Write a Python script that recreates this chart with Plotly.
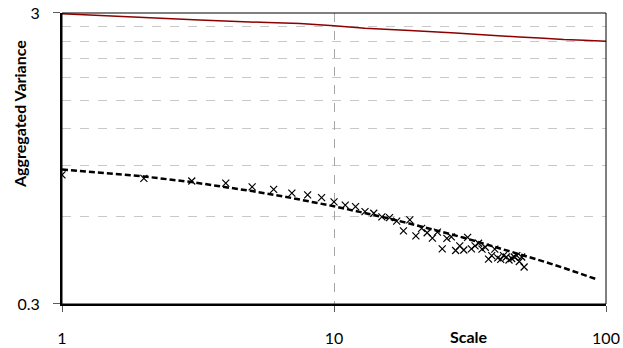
import plotly.graph_objects as go

# Red reference curve
red_x = [1, 1.8, 3.2, 5.7, 7.5, 10, 13, 19, 23, 28, 34, 41, 48, 57, 70, 83, 100]
red_y = [2.98, 2.90, 2.84, 2.78, 2.76, 2.71, 2.66, 2.61, 2.59, 2.56, 2.53, 2.51, 2.48, 2.46, 2.43, 2.42, 2.40]

# Fitted dashed curve
fit_x = [1, 2, 3, 5, 7, 10, 15, 20, 30, 40, 50, 60, 70, 80, 93]
fit_y = [0.870, 0.823, 0.787, 0.733, 0.694, 0.650, 0.598, 0.560, 0.507, 0.469, 0.441, 0.418, 0.399, 0.382, 0.364]

# Measured aggregated variance
scale = list(range(1, 51))
variance = [0.833, 0.811, 0.794, 0.781, 0.758, 0.743, 0.721, 0.711, 0.696, 0.673,
            0.656, 0.648, 0.623, 0.615, 0.598, 0.594, 0.578, 0.535, 0.584, 0.514,
            0.546, 0.527, 0.505, 0.530, 0.464, 0.504, 0.510, 0.458, 0.475, 0.460,
            0.508, 0.464, 0.475, 0.485, 0.463, 0.470, 0.428, 0.440, 0.463, 0.432,
            0.427, 0.440, 0.435, 0.425, 0.430, 0.435, 0.440, 0.420, 0.435, 0.402]

y_ticks = [0.3, 3]
y_tick_text = ["0.3", "3"]
y_minor = [0.6, 0.9, 1.2, 1.5, 1.8, 2.1, 2.4, 2.7]
x_ticks = [1, 10, 100]
x_tick_text = ["1", "10", "100"]

font = "Lato"

fig = go.Figure()
fig.add_trace(go.Scatter(x=red_x, y=red_y, mode="lines",
                         line=dict(color="#8B0000", width=1.5), showlegend=False))
fig.add_trace(go.Scatter(x=fit_x, y=fit_y, mode="lines",
                         line=dict(color="black", width=2.5, dash="6px,3px"), showlegend=False))
fig.add_trace(go.Scatter(x=scale, y=variance, mode="markers",
                         marker=dict(symbol="x-thin", size=7, line=dict(color="black", width=1.2)),
                         showlegend=False))

fig.update_layout(
    width=623, height=348,
    margin=dict(l=62, r=17, t=13, b=44, autoexpand=False),
    plot_bgcolor="white", paper_bgcolor="white",
    font=dict(family=font, size=16, color="black"),
    xaxis=dict(type="log", range=[0, 2], tickmode="array", tickvals=x_ticks, ticktext=x_tick_text,
               showgrid=True, gridcolor="#A6A6A6", griddash="dash", gridwidth=1,
               showline=True, linecolor="black", linewidth=2, automargin=False,
               ticks="outside", ticklen=6, tickcolor="#595959", ticklabelstandoff=13,
               zeroline=False),
    yaxis=dict(type="log", range=[-0.5229, 0.4771], tickmode="array", tickvals=y_ticks, ticktext=y_tick_text,
               showgrid=False, automargin=False,
               minor=dict(tickmode="array", tickvals=y_minor, showgrid=True, gridcolor="#C8C8C8",
                          griddash="dash", gridwidth=1, ticks=""),
               showline=True, linecolor="black", linewidth=2,
               ticks="outside", ticklen=7, tickcolor="#595959", ticklabelstandoff=10,
               zeroline=False),
    shapes=[dict(type="rect", xref="paper", yref="paper", x0=0, x1=1, y0=0, y1=1,
                 line=dict(color="black", width=1), layer="above")],
    annotations=[
        dict(text="<b>Aggregated Variance</b>", xref="paper", yref="paper",
             x=(19 - 62) / 544, y=(304 - 114) / 291, textangle=-90, showarrow=False,
             xanchor="center", yanchor="middle", font=dict(size=16, family=font)),
        dict(text="<b>Scale</b>", xref="paper", yref="paper",
             x=(469 - 62) / 544, y=(304 - 336) / 291, showarrow=False,
             xanchor="center", yanchor="middle", font=dict(size=16, family=font)),
    ],
)

fig.write_html("out.html")
